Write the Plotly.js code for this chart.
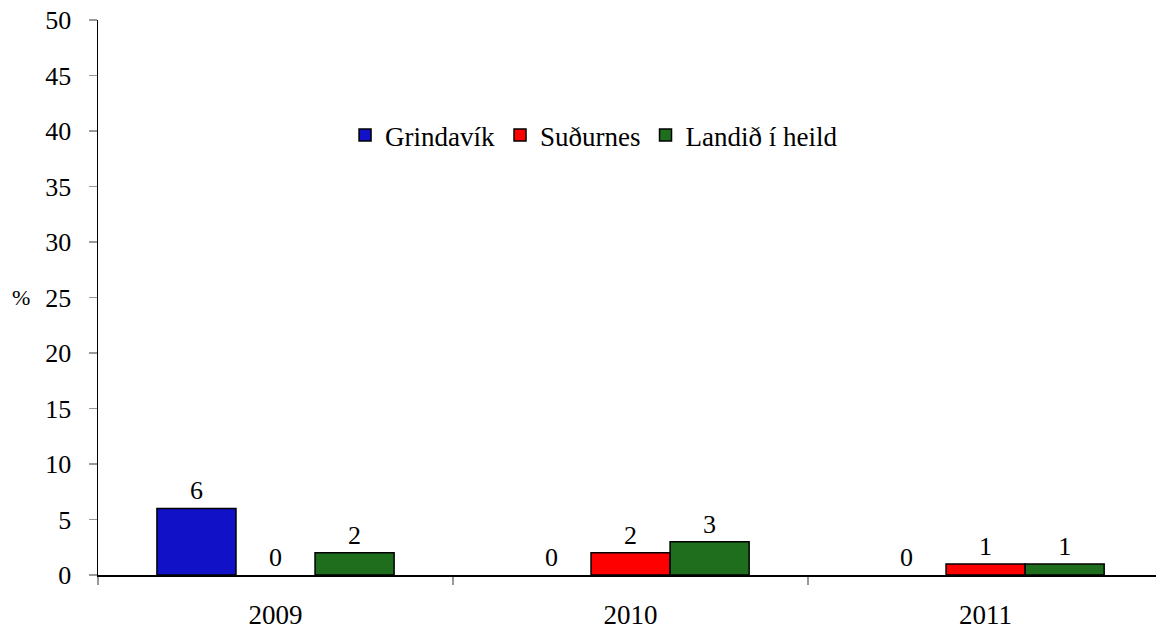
<!DOCTYPE html>
<html><head><meta charset="utf-8">
<script src="https://cdn.plot.ly/plotly-3.0.1.min.js"></script>
<style>body{margin:0;background:#fff}</style>
</head><body>
<div id="chart" style="width:1156px;height:630px"></div>
<script>
const years = ['2009', '2010', '2011'];
const seriesNames = ['Grindavík', 'Suðurnes', 'Landið í heild'];
const grindavik = [6, 0, 0];
const sudurnes = [0, 2, 1];
const landid = [2, 3, 1];
const yTicks = [0, 5, 10, 15, 20, 25, 30, 35, 40, 45, 50];
const colors = ['#1111C8', '#FF0000', '#1E6E1E'];
const FAM = 'Liberation Serif';

const vals = [grindavik, sudurnes, landid];
const traces = [];
vals.forEach((v, i) => {
  traces.push({
    type: 'bar', name: seriesNames[i], x: years, y: v, showlegend: false,
    legendgroup: 'g' + i, offsetgroup: 'g' + i,
    text: v.map(String), textposition: 'outside', cliponaxis: false,
    textfont: {family: FAM, size: 26, color: '#000'},
    marker: {color: colors[i], line: {color: '#000', width: v.map(d => d === 0 ? 0 : 1.5)}}
  });
});
vals.forEach((v, i) => {
  traces.push({
    type: 'bar', name: seriesNames[i], x: [years[0]], y: [null], showlegend: true,
    legendgroup: 'g' + i, offsetgroup: 'g' + i, hoverinfo: 'skip',
    marker: {color: colors[i], line: {color: '#000', width: 1.5}}
  });
});

const layout = {
  width: 1156, height: 630,
  margin: {l: 98, r: 0, t: 20, b: 55},
  paper_bgcolor: '#fff', plot_bgcolor: '#fff',
  font: {family: FAM, size: 27, color: '#000'},
  barmode: 'group', bargap: 0.332, bargroupgap: 0,
  showlegend: true,
  legend: {orientation: 'h', x: 0.2335, y: 0.792, xanchor: 'left', yanchor: 'middle',
           font: {family: FAM, size: 27, color: '#000'}, bgcolor: 'rgba(0,0,0,0)'},
  xaxis: {type: 'category', range: [-0.5, 2.48], showline: true, linecolor: '#000', linewidth: 1.5,
          ticks: 'outside', tickson: 'boundaries', tickcolor: '#999', ticklen: 8, tickwidth: 1.5,
          ticklabelstandoff: 15, showgrid: false, zeroline: false,
          tickfont: {family: FAM, size: 27, color: '#000'}},
  yaxis: {range: [0, 50], tickvals: yTicks, ticktext: yTicks.map(String), showline: true,
          linecolor: '#000', linewidth: 1.5, ticks: 'outside', tickcolor: '#999', ticklen: 8, tickwidth: 1.5,
          ticklabelstandoff: 12, showgrid: false, zeroline: false,
          tickfont: {family: FAM, size: 26, color: '#000'}},
  annotations: [{text: '%', xref: 'paper', yref: 'paper', x: -0.0728, y: 0.5, xanchor: 'center', yanchor: 'middle',
                 showarrow: false, font: {family: FAM, size: 22, color: '#000'}}]
};
Plotly.newPlot('chart', traces, layout, {displayModeBar: false, staticPlot: true});
</script>
</body></html>
